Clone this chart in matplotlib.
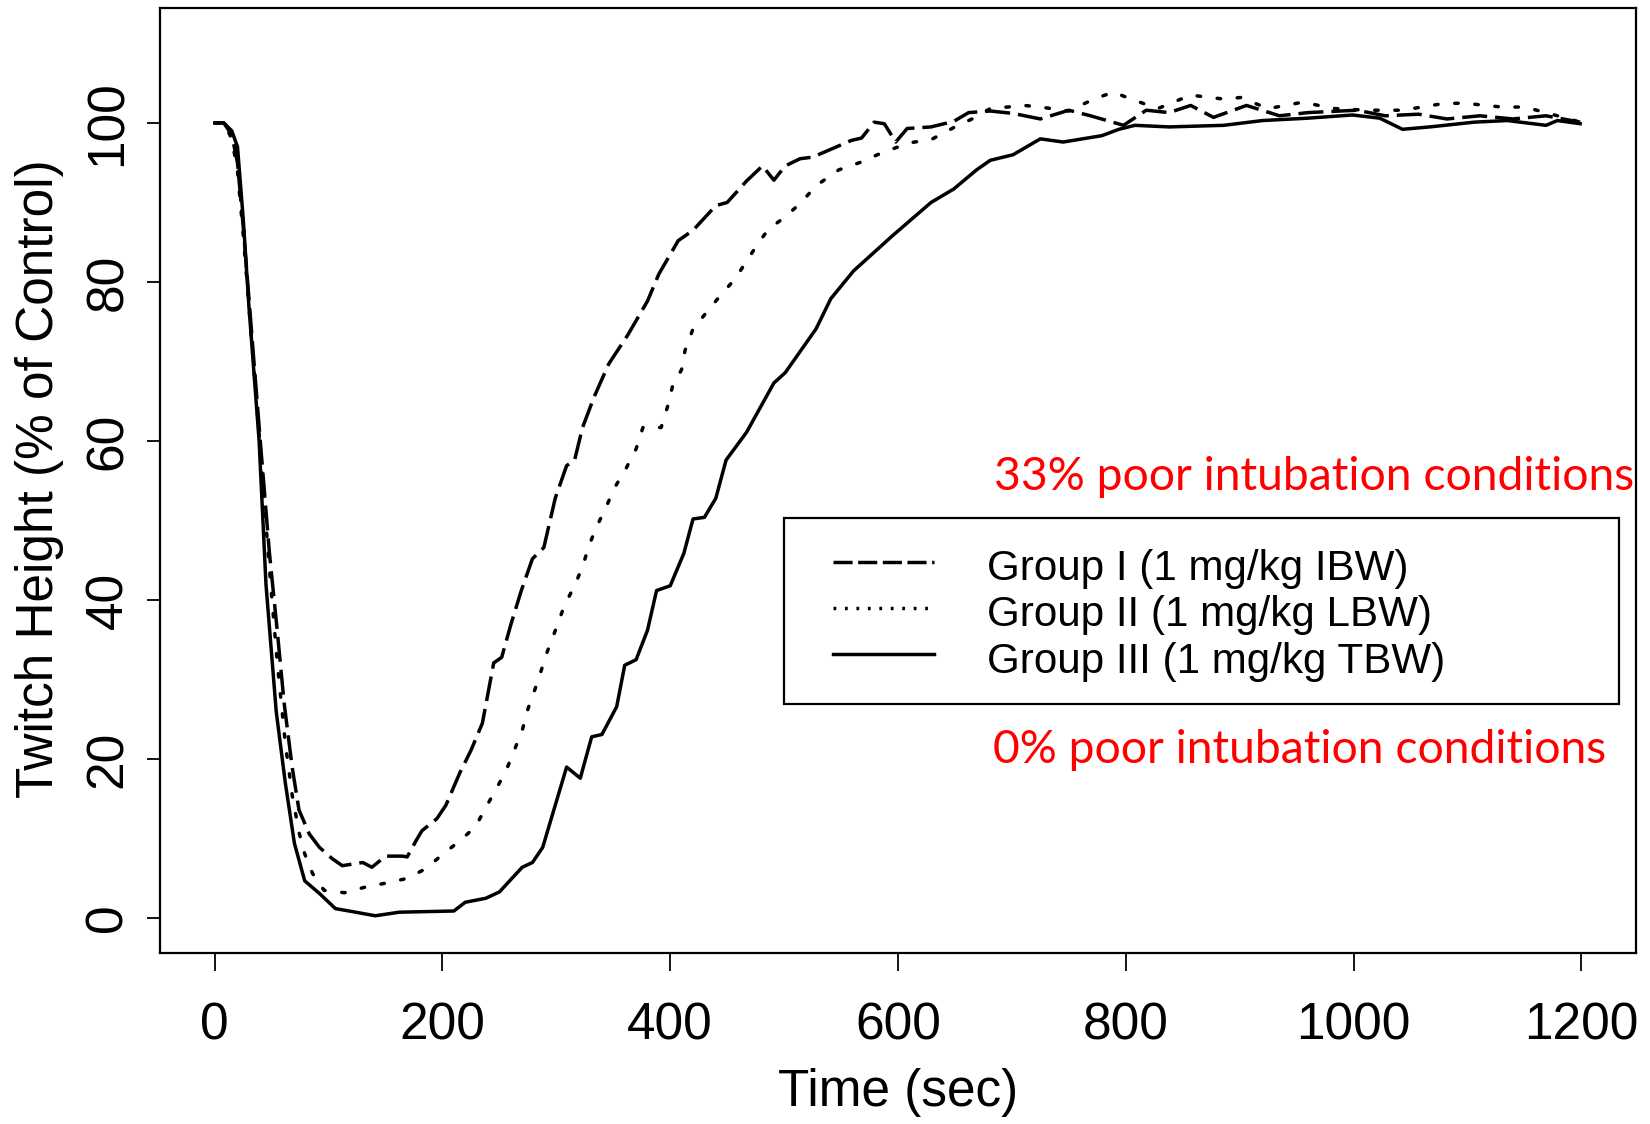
# Twitch height recovery curves for three dosing groups
import matplotlib
matplotlib.use("Agg")
import matplotlib.pyplot as plt
from matplotlib.patches import Rectangle

# Group I (1 mg/kg IBW) - dashed curve
time_g1 = [0, 8, 15, 20, 25, 30, 40, 48, 55, 61, 68, 74, 83, 92, 103, 112,
           130, 138, 150, 165, 169, 177, 182, 195, 203, 215, 225, 235, 245,
           252, 260, 269, 279, 289, 299, 309, 316, 323, 333, 346, 363, 380,
           390, 407, 420, 440, 450, 467, 481, 491, 501, 514, 525, 538, 559,
           568, 579, 588, 598, 608, 629, 649, 662, 681, 701, 725, 750, 769,
           798, 818, 838, 857, 877, 906, 935, 960, 1003, 1028, 1057, 1082,
           1111, 1140, 1169, 1199]
height_g1 = [100, 100, 98.5, 95, 87, 78, 60, 46, 36, 27, 19, 13.6, 10.6, 8.9,
             7.5, 6.6, 7.0, 6.4, 7.8, 7.8, 7.7, 9.8, 11.0, 12.5, 14.2, 18.2,
             21.1, 24.5, 32.1, 32.8, 36.9, 41.1, 45.2, 46.6, 52.8, 56.9, 57.6,
             61.7, 65.5, 69.7, 73.4, 77.6, 81.0, 85.2, 86.5, 89.6, 90.0, 92.7,
             94.6, 92.8, 94.6, 95.5, 95.7, 96.5, 97.8, 98.1, 100.1, 99.9, 97.6,
             99.3, 99.5, 100.2, 101.3, 101.5, 101.2, 100.5, 101.6, 100.9, 99.7,
             101.6, 101.3, 102.2, 100.7, 102.2, 100.9, 101.3, 101.6, 100.9,
             101.1, 100.5, 100.9, 100.5, 100.9, 100.1]

# Group II (1 mg/kg LBW) - dotted curve
time_g2 = [0, 8, 15, 20, 25, 30, 40, 48, 55, 62, 68, 74, 79, 86, 96, 114,
           132, 150, 169, 185, 200, 215, 229, 238, 247, 256, 263, 270, 275,
           283, 292, 301, 307, 316, 323, 329, 336, 344, 351, 361, 370, 376,
           392, 398, 402, 410, 413, 420, 432, 444, 457, 466, 476, 486, 501,
           515, 528, 548, 568, 585, 610, 629, 650, 665, 681, 711, 725, 750,
           769, 789, 801, 828, 857, 886, 901, 925, 955, 984, 1013, 1043, 1077,
           1096, 1130, 1150, 1169, 1199]
height_g2 = [100, 100, 98, 94, 86, 77, 59, 44, 32, 22, 15.5, 10.8, 8.1, 5.6,
             3.5, 3.2, 3.9, 4.4, 5.0, 6.2, 8.0, 9.7, 11.5, 13.9, 16.2, 18.6,
             21.1, 23.6, 26.3, 29.5, 33.5, 36.9, 39.3, 41.8, 44.2, 47.0, 49.4,
             51.8, 54.1, 56.5, 59.0, 61.7, 61.7, 64.5, 66.9, 69.0, 71.4, 74.1,
             76.2, 78.3, 80.4, 82.4, 84.6, 86.6, 88.2, 90.0, 92.1, 94.1, 95.1,
             96.2, 97.5, 97.9, 99.5, 100.5, 101.8, 102.2, 102.0, 101.5, 102.8,
             103.9, 103.2, 101.8, 103.5, 103.0, 103.2, 101.8, 102.6, 101.8,
             101.6, 101.6, 102.4, 102.5, 102.0, 102.0, 101.3, 100.1]

# Group III (1 mg/kg TBW) - solid curve
time_g3 = [0, 8, 15, 20, 25, 30, 39, 45, 54, 62, 70, 79, 92, 106, 118, 141,
           162, 210, 220, 238, 250, 270, 279, 288, 309, 321, 331, 340, 353,
           360, 370, 380, 388, 400, 412, 420, 430, 440, 449, 467, 491, 501,
           528, 541, 561, 595, 629, 649, 669, 681, 701, 725, 745, 779, 794,
           808, 838, 886, 920, 960, 999, 1023, 1043, 1067, 1106, 1135, 1169,
           1179, 1199]
height_g3 = [100, 100, 99, 97, 88, 77, 60, 42, 26, 17, 9.4, 4.7, 3.1, 1.2,
             0.9, 0.3, 0.75, 0.9, 2.0, 2.5, 3.3, 6.4, 7.0, 8.9, 19.0, 17.6,
             22.8, 23.1, 26.6, 31.8, 32.5, 36.2, 41.2, 41.8, 45.9, 50.2, 50.4,
             52.8, 57.6, 61.1, 67.3, 68.6, 74.1, 77.9, 81.4, 85.8, 90.0, 91.7,
             94.1, 95.3, 96.0, 98.0, 97.6, 98.4, 99.2, 99.7, 99.5, 99.7, 100.3,
             100.6, 101.0, 100.6, 99.2, 99.5, 100.1, 100.3, 99.7, 100.3, 99.9]

group_labels = ["Group I (1 mg/kg IBW)", "Group II (1 mg/kg LBW)",
                "Group III (1 mg/kg TBW)"]
x_ticks = [0, 200, 400, 600, 800, 1000, 1200]
y_ticks = [0, 20, 40, 60, 80, 100]
notes = ["33% poor intubation conditions", "0% poor intubation conditions"]


def twitchPlot():
    '''
    Draws the three twitch height curves, a boxed legend and the two red
    notes about intubation conditions, then saves the figure as out.png.
    '''
    plt.rcParams['font.family'] = ['Liberation Sans', 'DejaVu Sans']

    fig = plt.figure(figsize=(16.5, 11.24), dpi=100)
    ax = fig.add_axes([0.097, 0.152, 0.8945, 0.8405])

    # Line styles as in the original R plot
    dash_style = (7.2, 2.3)
    dot_style = (1.0, 4.8)
    lw = 2.5

    ax.plot(time_g1, height_g1, color='black', lw=lw, dashes=dash_style)
    ax.plot(time_g2, height_g2, color='black', lw=lw, dashes=dot_style,
            dash_capstyle='round')
    ax.plot(time_g3, height_g3, color='black', lw=lw)

    # R style axis ranges (4% padding)
    ax.set_xlim(-48, 1248)
    ax.set_ylim(-4.4, 114.4)
    ax.set_xticks(x_ticks)
    ax.set_yticks(y_ticks)
    ax.tick_params(axis='x', length=13, width=1.3, pad=22, labelsize=37)
    ax.tick_params(axis='y', length=9.5, width=1.3, pad=10, labelsize=37,
                   labelrotation=90)
    for lab in ax.get_yticklabels():
        lab.set_va('center')
    for sp in ax.spines.values():
        sp.set_linewidth(1.6)

    ax.set_xlabel("Time (sec)", fontsize=37)
    ax.set_ylabel("Twitch Height (% of Control)", fontsize=37)
    ax.xaxis.set_label_coords(0.5, -0.122)
    ax.yaxis.set_label_coords(-0.0654, 0.502)

    # Boxed legend drawn in axes fraction
    ax.add_patch(Rectangle((0.4228, 0.2636), 0.5654, 0.1969,
                           transform=ax.transAxes, fill=False,
                           ec='black', lw=1.6))
    line_y = [0.4142, 0.3652, 0.3165]
    text_y = [0.3949, 0.3462, 0.2964]
    styles = [dict(dashes=(5.5, 1.6)), dict(dashes=(0.8, 2.5)), dict()]
    for ly, ty, label, st in zip(line_y, text_y, group_labels, styles):
        ax.plot([0.456, 0.5244], [ly, ly], color='black', lw=lw,
                transform=ax.transAxes, **st)
        ax.text(0.5603, ty, label, transform=ax.transAxes, fontsize=30.3,
                va='baseline', ha='left')

    # Red notes
    ax.text(684, 53.8, notes[0], color='#ff0000', fontsize=33.3,
            family='Lato', ha='left', va='baseline')
    ax.text(683, 19.5, notes[1], color='#ff0000', fontsize=33.3,
            family='Lato', ha='left', va='baseline')

    fig.savefig("out.png", dpi=100)


def main():
    twitchPlot()


if __name__ == "__main__":
    main()
